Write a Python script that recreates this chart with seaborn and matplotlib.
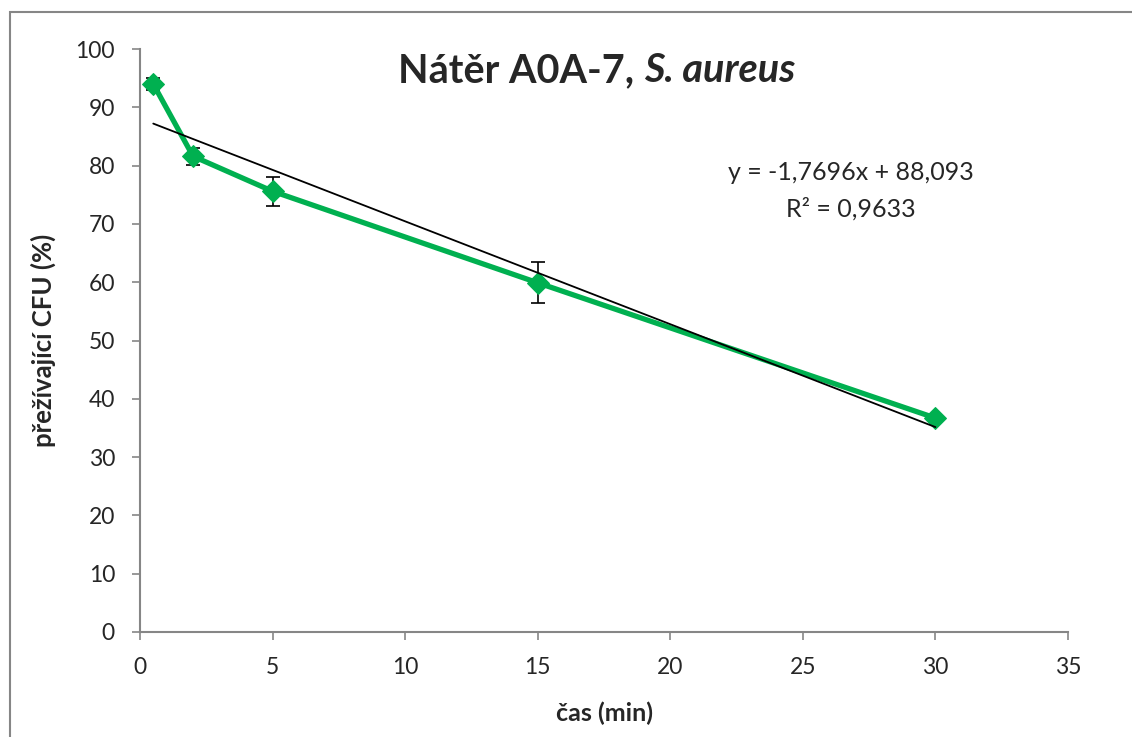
import numpy as np
import pandas as pd
import matplotlib.pyplot as plt
import seaborn as sns
from matplotlib.patches import Rectangle

# data
time_min = [0.5, 2, 5, 15, 30]
survival_pct = [94.0, 81.6, 75.6, 59.9, 36.7]
error_pct = [1.0, 1.5, 2.5, 3.5, 0.4]

x_ticks = [0, 5, 10, 15, 20, 25, 30, 35]
y_ticks = [0, 10, 20, 30, 40, 50, 60, 70, 80, 90, 100]

df = pd.DataFrame({"cas": time_min, "prezivajici": survival_pct, "err": error_pct})

sns.set_style("white")
plt.rcParams["font.family"] = ["Lato", "DejaVu Sans"]

green = "#00B050"
grey = "#868686"

fig = plt.figure(figsize=(11.32, 7.37), dpi=100)
ax = fig.add_axes([140 / 1132, 1 - 632 / 737, 928 / 1132, 583 / 737])

# chart border
fig.patches.append(Rectangle((10 / 1132, -0.01), 1.0, 1 - 12 / 737 + 0.01,
                             transform=fig.transFigure, fill=False,
                             edgecolor=grey, linewidth=1.5))

# error bars
ax.errorbar(df["cas"], df["prezivajici"], yerr=df["err"], fmt="none",
            ecolor="black", elinewidth=1.2, capsize=5, capthick=1.2, zorder=2)

# data line
sns.lineplot(data=df, x="cas", y="prezivajici", ax=ax, color=green,
             linewidth=3.8, marker="D", markersize=11.5, markeredgecolor=green,
             zorder=3)

# linear trendline
sns.regplot(data=df, x="cas", y="prezivajici", ax=ax, scatter=False, ci=None,
            line_kws={"color": "black", "linewidth": 1.3, "zorder": 4})

ax.set_xlim(0, 35)
ax.set_ylim(0, 100)
ax.set_xticks(x_ticks)
ax.set_yticks(y_ticks)
ax.tick_params(axis="both", labelsize=16.5, length=6, width=1.2, color=grey,
               direction="out", bottom=True, left=True, pad=12)
for side in ["top", "right"]:
    ax.spines[side].set_visible(False)
for side in ["left", "bottom"]:
    ax.spines[side].set_color(grey)
    ax.spines[side].set_linewidth(1.5)

ax.set_xlabel("čas (min)", fontsize=18, fontweight="bold", labelpad=17)
ax.set_ylabel("přežívající CFU (%)", fontsize=18.5, fontweight="bold", labelpad=14)

# title, partly italic
t1 = ax.text((398 - 140) / 928, (632 - 52) / 583, "Nátěr A0A-7, ",
             transform=ax.transAxes, fontsize=28.5, fontweight="bold",
             va="top", ha="left")
ax.annotate("S. aureus", xy=(1, 0), xycoords=t1, va="bottom", ha="left",
            fontsize=28.5, fontweight="bold", fontstyle="italic")

# trendline equation
ax.text(26.8, 78.9, "y = -1,7696x + 88,093", fontsize=18, ha="center", va="center")
ax.text(26.8, 72.6, "R² = 0,9633", fontsize=18, ha="center", va="center")

fig.savefig("out.png", dpi=100)
